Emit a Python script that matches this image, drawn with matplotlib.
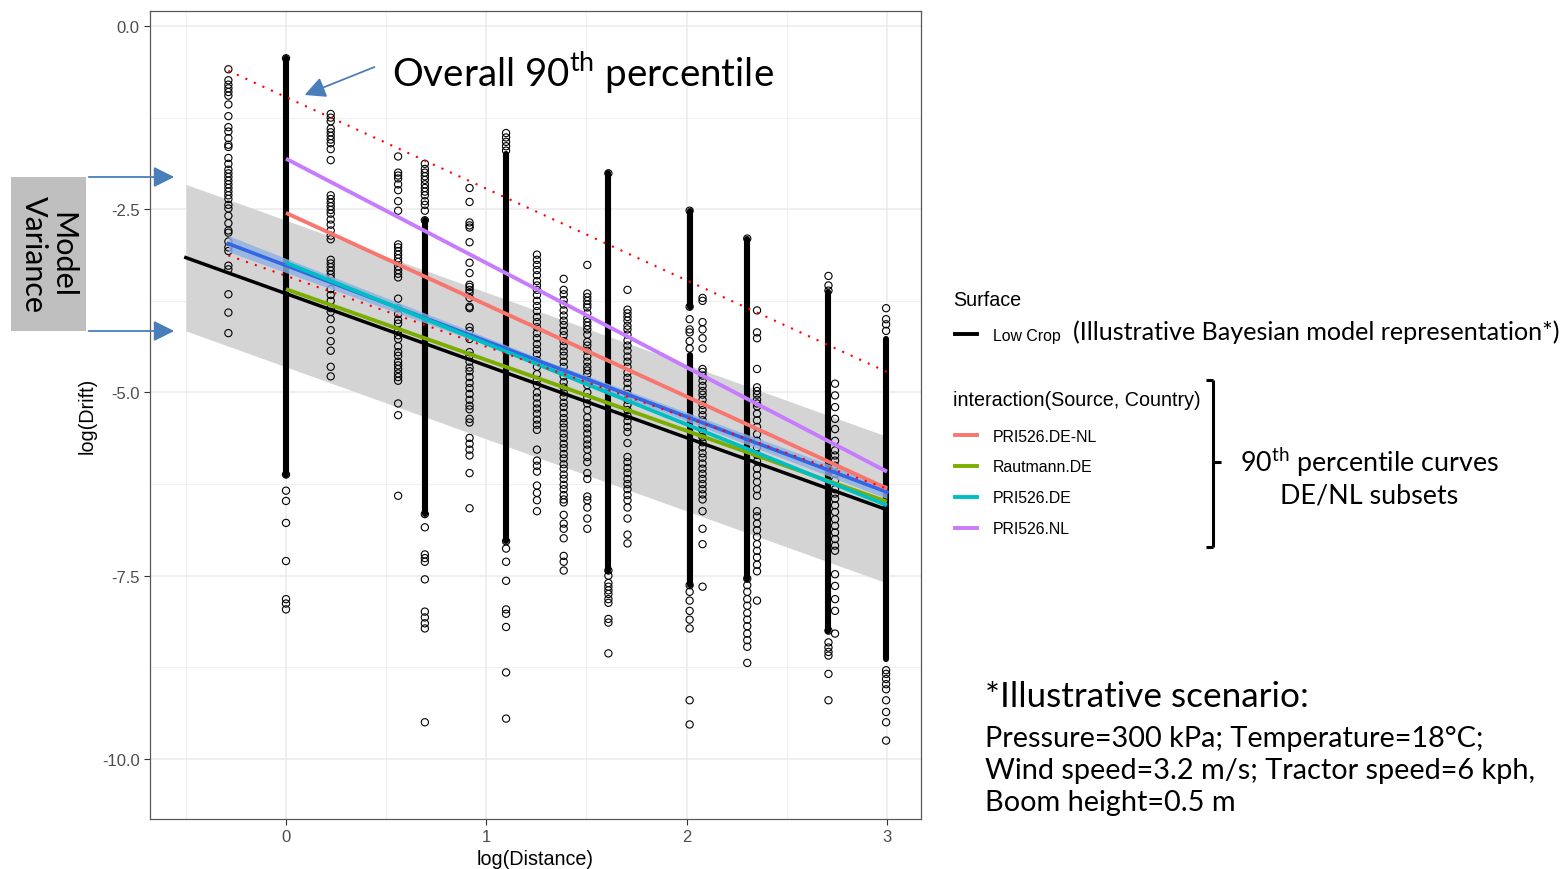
import matplotlib
matplotlib.use('Agg')
import matplotlib.pyplot as plt
from matplotlib.lines import Line2D
from matplotlib.patches import Rectangle, FancyArrowPatch
import numpy as np

plt.rcParams['font.family'] = ['Liberation Sans', 'DejaVu Sans']
plt.rcParams['mathtext.fontset'] = 'custom'
plt.rcParams['mathtext.rm'] = 'Lato'

W, H = 1564, 870
NOTE_FONT = ['Lato', 'DejaVu Sans']

# distances of the sampled columns (m), plotted as log(Distance)
distances = [0.75, 1, 1.25, 1.75, 2, 2.5, 3, 3.5, 4, 4.5, 5, 5.5, 7.5, 8, 10, 10.5, 15, 15.5, 20]

drift_0p75 = [-0.59, -0.74, -0.80, -0.85, -0.90, -0.95, -1.07, -1.23, -1.38, -1.44, -1.53, -1.62, -1.65,
              -1.80, -1.88, -1.96, -2.01, -2.06, -2.11, -2.16, -2.21, -2.26, -2.31, -2.36, -2.44, -2.49,
              -2.59, -2.69, -2.79, -2.82, -2.94, -3.02, -3.07, -3.27, -3.32, -3.66, -3.91, -4.19]
drift_1 = [-0.44, -6.12, -6.34, -6.48, -6.78, -7.30, -7.82, -7.88, -7.96]
drift_1p25 = [-1.20, -1.25, -1.30, -1.40, -1.45, -1.50, -1.55, -1.60, -1.68, -1.83, -2.31, -2.36, -2.41,
              -2.46, -2.51, -2.56, -2.64, -2.71, -2.79, -2.86, -2.91, -3.19, -3.24, -3.29, -3.34, -3.39,
              -3.44, -3.59, -3.67, -3.75, -3.85, -3.90, -4.00, -4.15, -4.30, -4.43, -4.65, -4.78]
drift_1p75 = [-1.78, -2.00, -2.04, -2.08, -2.16, -2.24, -2.39, -2.52, -2.98, -3.02, -3.07, -3.12, -3.17,
              -3.22, -3.28, -3.33, -3.38, -3.43, -3.72, -3.85, -3.93, -4.01, -4.06, -4.16, -4.22, -4.27,
              -4.37, -4.45, -4.50, -4.58, -4.63, -4.68, -4.74, -4.79, -4.84, -5.15, -5.31, -6.41]
drift_2 = [-1.88, -1.95, -2.00, -2.05, -2.10, -2.16, -2.21, -2.26, -2.31, -2.39, -2.44, -2.52, -2.65,
           -6.66, -6.84, -7.21, -7.26, -7.31, -7.55, -7.99, -8.07, -8.15, -8.22, -9.50]
drift_2p5 = [-2.21, -2.40, -2.68, -2.72, -2.75, -2.95, -3.23, -3.37, -3.53, -3.56, -3.60, -3.64, -3.71,
             -3.83, -3.85, -4.11, -4.16, -4.27, -4.45, -4.50, -4.58, -4.66, -4.71, -4.79, -4.87, -4.94,
             -5.02, -5.10, -5.18, -5.23, -5.36, -5.41, -5.62, -5.70, -5.78, -5.86, -6.10, -6.58]
drift_3 = [-1.46, -1.52, -1.58, -1.64, -1.70, -7.03, -7.13, -7.31, -7.57, -7.96, -8.02, -8.20, -8.82, -9.45]
drift_3p5 = [-3.12, -3.19, -3.26, -3.33, -3.40, -3.48, -3.54, -3.60, -3.67, -3.75, -3.82, -3.89, -3.97,
             -4.04, -4.11, -4.19, -4.26, -4.34, -4.41, -4.48, -4.56, -4.65, -4.75, -4.83, -4.90, -5.00,
             -5.07, -5.15, -5.22, -5.29, -5.37, -5.44, -5.51, -5.78, -5.93, -6.00, -6.08, -6.27, -6.37,
             -6.47, -6.62]
drift_4 = [-3.45, -3.60, -3.66, -3.74, -3.80, -3.88, -3.95, -4.02, -4.08, -4.16, -4.22, -4.30, -4.37,
           -4.44, -4.50, -4.58, -4.65, -4.72, -4.78, -4.86, -4.93, -5.00, -5.06, -5.14, -5.20, -5.28,
           -5.35, -5.42, -5.48, -5.56, -5.62, -5.70, -5.76, -5.84, -5.90, -5.98, -6.04, -6.12, -6.18,
           -6.26, -6.32, -6.40, -6.46, -6.50, -6.67, -6.79, -6.86, -6.99, -7.23, -7.31, -7.43]
drift_4p5 = [-3.26, -3.65, -3.70, -3.75, -3.80, -3.84, -3.92, -3.99, -4.04, -4.09, -4.14, -4.21, -4.31,
             -4.36, -4.43, -4.51, -4.58, -4.65, -4.70, -4.75, -4.83, -4.90, -5.00, -5.07, -5.15, -5.24,
             -5.34, -5.42, -5.49, -5.56, -5.64, -5.71, -5.78, -5.88, -5.95, -6.10, -6.18, -6.42, -6.47,
             -6.57, -6.72, -6.86]
drift_5 = [-2.01, -7.43, -7.50, -7.60, -7.65, -7.70, -7.75, -7.82, -7.87, -8.09, -8.14, -8.56]
drift_5p5 = [-3.60, -3.87, -3.92, -3.97, -4.02, -4.09, -4.14, -4.21, -4.29, -4.36, -4.43, -4.51, -4.58,
             -4.65, -4.73, -4.80, -4.87, -4.95, -5.02, -5.10, -5.17, -5.24, -5.32, -5.39, -5.47, -5.54,
             -5.69, -5.88, -5.95, -6.03, -6.10, -6.18, -6.25, -6.32, -6.40, -6.47, -6.57, -6.72, -6.94, -7.06]
drift_7p5 = [-2.52, -3.83, -4.00, -4.14, -4.18, -4.30, -4.40, -7.63, -7.72, -7.84, -7.98, -8.10, -8.22,
             -9.20, -9.53]
drift_8 = [-3.71, -3.75, -4.04, -4.14, -4.26, -4.40, -4.68, -4.72, -4.77, -4.84, -4.91, -4.98, -5.03,
           -5.10, -5.17, -5.24, -5.31, -5.38, -5.45, -5.52, -5.61, -5.68, -5.75, -5.83, -5.89, -5.97,
           -6.04, -6.11, -6.18, -6.25, -6.32, -6.39, -6.46, -6.62, -6.86, -7.07, -7.65]
drift_10 = [-2.90, -7.54, -7.63, -7.72, -7.82, -7.91, -8.01, -8.10, -8.19, -8.29, -8.38, -8.47, -8.69]
drift_10p5 = [-3.88, -4.18, -4.26, -4.68, -4.93, -4.98, -5.03, -5.10, -5.15, -5.19, -5.29, -5.38, -5.47,
              -5.57, -5.66, -5.75, -5.85, -5.94, -6.04, -6.13, -6.22, -6.32, -6.41, -6.62, -6.69, -6.79,
              -6.88, -6.97, -7.07, -7.16, -7.25, -7.35, -7.44, -7.84]
drift_15 = [-3.41, -3.54, -3.61, -8.25, -8.41, -8.48, -8.54, -8.59, -8.84, -9.20]
drift_15p5 = [-4.88, -5.04, -5.20, -5.36, -5.50, -5.66, -5.79, -5.86, -5.93, -6.00, -6.11, -6.20, -6.32,
              -6.38, -6.45, -6.54, -6.63, -6.73, -6.82, -6.91, -7.00, -7.09, -7.16, -7.48, -7.64, -7.82,
              -7.98, -8.29]
drift_20 = [-3.85, -4.00, -4.07, -4.16, -8.79, -8.84, -8.91, -8.98, -9.05, -9.20, -9.36, -9.50, -9.75]

# stretches where the circles overlap into a solid column
dense_dist = [1, 2, 3, 5, 7.5, 7.5, 10, 15, 20]
dense_top = [-0.44, -2.65, -1.75, -2.01, -2.52, -4.49, -2.90, -3.63, -4.27]
dense_bottom = [-6.12, -6.66, -7.03, -7.43, -3.83, -7.63, -7.54, -8.25, -8.64]

# Bayesian model (Low Crop) and its variance band
model_x = [-0.5, 3.0]
model_y = [-3.16, -6.60]
band_upper = [-2.16, -5.60]
band_lower = [-4.16, -7.60]

# overall 90th percentile (dotted red)
p90_x = [-0.288, 3.0]
p90_upper = [-0.61, -4.72]
p90_lower = [-3.13, -6.31]

# blue smooth with its ribbon
smooth_x = [-0.288, 1.3, 3.0]
smooth_y = [-2.97, -4.61, -6.36]
smooth_se = [0.11, 0.04, 0.09]

# 90th percentile curves per subset
subset_x = [0, 3]
subset_names = ['PRI526.DE-NL', 'Rautmann.DE', 'PRI526.DE', 'PRI526.NL']
subset_colors = ['#F8766D', '#7CAE00', '#00BFC4', '#C77CFF']
subset_y = {
    'PRI526.DE-NL': [-2.55, -6.31],
    'Rautmann.DE': [-3.59, -6.49],
    'PRI526.DE': [-3.23, -6.54],
    'PRI526.NL': [-1.81, -6.08],
}

y_ticks = [0, -2.5, -5, -7.5, -10]
y_ticklabels = ['0.0', '-2.5', '-5.0', '-7.5', '-10.0']
x_ticks = [0, 1, 2, 3]


def px(x, y):
    return (x / W, 1 - y / H)


fig = plt.figure(figsize=(W / 100, H / 100), dpi=100)
ax = fig.add_axes([150 / W, 1 - 820 / H, (921 - 150) / W, (820 - 12) / H])

ax.fill_between(model_x, band_lower, band_upper, color='#D4D4D4', lw=0, zorder=1)

columns = [drift_0p75, drift_1, drift_1p25, drift_1p75, drift_2, drift_2p5, drift_3, drift_3p5, drift_4,
           drift_4p5, drift_5, drift_5p5, drift_7p5, drift_8, drift_10, drift_10p5, drift_15, drift_15p5,
           drift_20]
for d, ys in zip(distances, columns):
    ax.scatter(np.full(len(ys), np.log(d)), ys, s=27, facecolors='none', edgecolors='black',
               linewidths=0.8, zorder=2)
ax.vlines(np.log(dense_dist), dense_bottom, dense_top, colors='black', linewidth=4.4,
          capstyle='round', zorder=2)

lo = np.array(smooth_y) - np.array(smooth_se)
hi = np.array(smooth_y) + np.array(smooth_se)
ax.fill_between(smooth_x, lo, hi, color='#8FB0E3', alpha=0.8, lw=0, zorder=3)
ax.plot(smooth_x, smooth_y, color='#3366E6', lw=2.6, zorder=4)

for name, col in zip(subset_names, subset_colors):
    ax.plot(subset_x, subset_y[name], color=col, lw=2.8, zorder=4, solid_capstyle='butt')

ax.plot(model_x, model_y, color='black', lw=2.5, zorder=4)

ax.plot(p90_x, p90_upper, color='red', lw=1.5, ls=(0, (1, 3.5)), zorder=5)
ax.plot(p90_x, p90_lower, color='red', lw=1.5, ls=(0, (1, 3.5)), zorder=5)

ax.set_xlim(-0.679, 3.170)
ax.set_ylim(-10.82, 0.205)
ax.set_xticks(x_ticks)
ax.set_xticks([-0.5, 0.5, 1.5, 2.5], minor=True)
ax.set_yticks(y_ticks)
ax.set_yticklabels(y_ticklabels)
ax.set_yticks([-1.25, -3.75, -6.25, -8.75], minor=True)
ax.grid(True, which='major', color='#EBEBEB', lw=1.1)
ax.grid(True, which='minor', color='#F0F0F0', lw=0.7)
ax.set_axisbelow(True)
ax.tick_params(which='major', length=4, width=0.8, color='#333333', labelcolor='#4D4D4D', labelsize=12)
ax.tick_params(which='minor', length=0)
for s in ax.spines.values():
    s.set_color('#595959')
    s.set_linewidth(0.9)
ax.set_xlabel('log(Distance)', fontsize=14.2, labelpad=3)
ax.set_ylabel('log(Drift)', fontsize=14.2, labelpad=4)

# ---- legend (drawn by hand, ggplot style) ----
fig.text(*px(953, 301), 'Surface', fontsize=14.2, va='center', ha='left')
fig.add_artist(Line2D(*zip(px(955, 335), px(977, 335)), color='black', lw=2.8, transform=fig.transFigure))
fig.text(*px(993, 336), 'Low Crop', fontsize=11.4, va='center', ha='left')
fig.text(*px(1073, 332), '(Illustrative Bayesian model representation*)', family=NOTE_FONT,
         fontsize=18.1, va='center', ha='left')

fig.text(*px(953, 401), 'interaction(Source, Country)', fontsize=14.2, va='center', ha='left')
for i, (name, col) in enumerate(zip(subset_names, subset_colors)):
    yy = 436 + i * 31
    fig.add_artist(Line2D(*zip(px(955, yy), px(977, yy)), color=col, lw=2.8, transform=fig.transFigure))
    fig.text(*px(993, yy + 1), name, fontsize=11.4, va='center', ha='left')

# bracket around the subset legend
for a, b in [((1206, 381), (1213, 381)), ((1213, 381), (1213, 548)), ((1206, 548), (1213, 548)),
             ((1213, 463), (1221, 463))]:
    fig.add_artist(Line2D(*zip(px(*a), px(*b)), color='black', lw=2.2, transform=fig.transFigure,
                          solid_capstyle='butt'))
fig.text(*px(1240, 462), r'90$^{\mathrm{th}}$ percentile curves', family=NOTE_FONT, fontsize=19.4,
         va='center', ha='left')
fig.text(*px(1369, 496), 'DE/NL subsets', family=NOTE_FONT, fontsize=19.4, va='center', ha='center')

# scenario note
fig.text(*px(985, 697), '*Illustrative scenario:', family=NOTE_FONT, fontsize=25.3, va='center', ha='left')
scenario = ['Pressure=300 kPa; Temperature=18°C;', 'Wind speed=3.2 m/s; Tractor speed=6 kph,',
            'Boom height=0.5 m']
for i, line in enumerate(scenario):
    fig.text(*px(985, 739 + i * 32), line, family=NOTE_FONT, fontsize=20.8, va='center', ha='left')

# overall 90th percentile callout
fig.text(*px(392, 72), r'Overall 90$^{\mathrm{th}}$ percentile', family=NOTE_FONT, fontsize=27.7,
         va='center', ha='left')
arrow_kw = dict(arrowstyle='-|>,head_length=0.9,head_width=0.45', mutation_scale=14, color='#4A7EBB',
                lw=1.3, transform=fig.transFigure)
fig.add_artist(FancyArrowPatch(px(377, 67), px(302, 97), **arrow_kw))

# model variance box
fig.add_artist(Rectangle(px(11, 332), 75 / W, 154 / H, facecolor='#BFBFBF', edgecolor='none',
                         transform=fig.transFigure))
fig.text(*px(48, 255), 'Model\nVariance', family=NOTE_FONT, fontsize=22, rotation=-90, va='center',
         ha='center', multialignment='center', linespacing=1.0)
fig.add_artist(FancyArrowPatch(px(86, 178), px(177, 178), **arrow_kw))
fig.add_artist(FancyArrowPatch(px(86, 332), px(177, 332), **arrow_kw))

fig.savefig('out.png', dpi=100)
